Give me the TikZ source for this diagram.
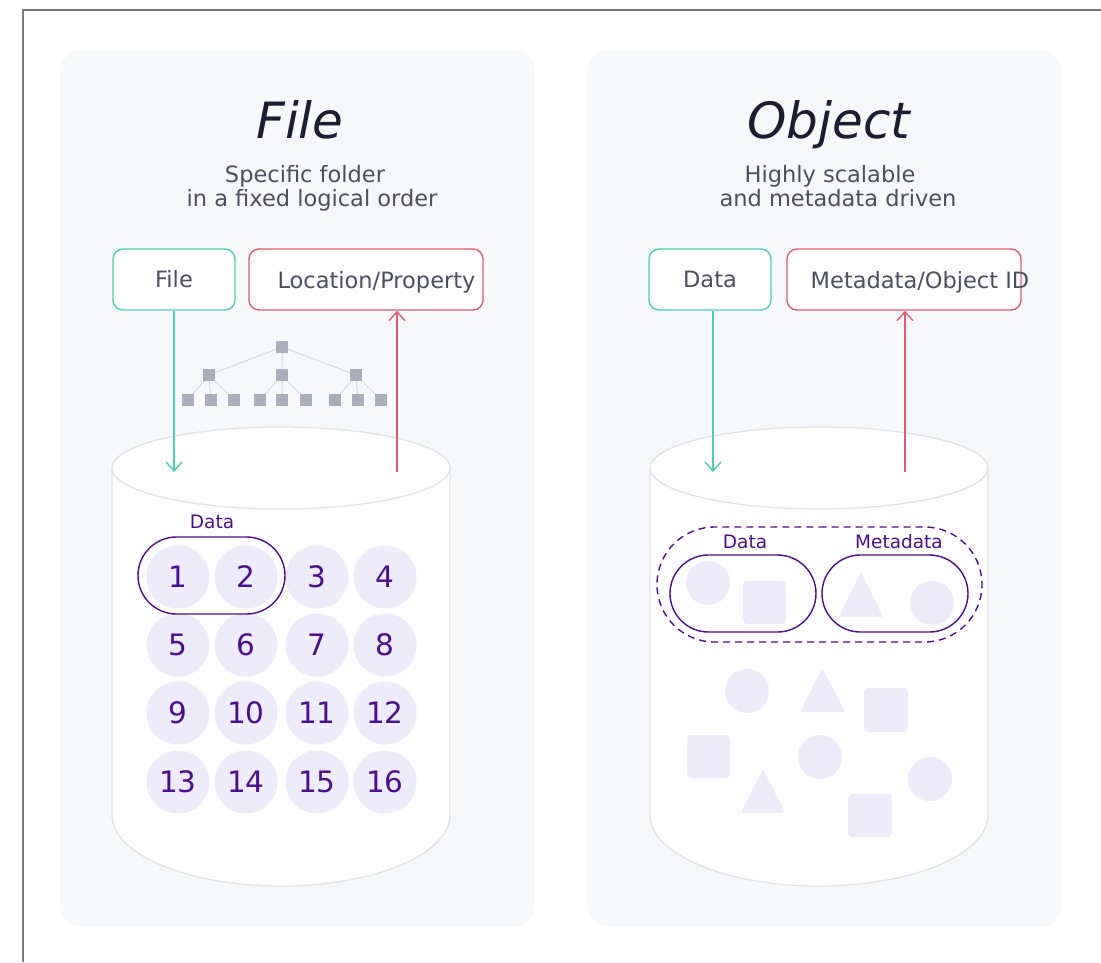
\documentclass[tikz,border=0pt]{standalone}
\usepackage{fontspec}
\setmainfont{DejaVu Sans}
\usetikzlibrary{arrows.meta,shapes.misc}
\definecolor{panel}{HTML}{F7F8FA}
\definecolor{myteal}{HTML}{4CD0B2}
\definecolor{myred}{HTML}{DE5B74}
\definecolor{mypurple}{HTML}{4B0F8E}
\definecolor{lav}{HTML}{EEEBFB}
\definecolor{cylline}{HTML}{E2E2EA}
\definecolor{treesq}{HTML}{ABADBB}
\definecolor{treeln}{HTML}{D8D9E0}
\definecolor{titlec}{HTML}{1C1D30}
\definecolor{subc}{HTML}{4B4F5E}
\definecolor{frame}{HTML}{7A7A7A}
\tikzset{
  boxshape/.style={draw, rounded corners=10pt, line width=1.4pt, fill=white, minimum height=61pt, inner sep=0pt, text=subc, font=\fontsize{22.5}{24}\selectfont},
  boxtext/.style={anchor=base, inner sep=0pt, text=subc, font=\fontsize{22.5}{24}\selectfont},
  titletext/.style={anchor=base, inner sep=0pt, text=titlec, font=\fontsize{50}{50}\selectfont\itshape},
  subtext/.style={anchor=base, inner sep=0pt, text=subc, font=\fontsize{22.5}{24}\selectfont},
  numc/.style={circle, fill=lav, minimum size=63pt, inner sep=0pt, text=mypurple, font=\fontsize{29.5}{29.5}\selectfont},
  grouplabel/.style={inner sep=0pt, anchor=base, text=mypurple, font=\fontsize{18.5}{18.5}\selectfont},
  stadium/.style={rounded rectangle, draw=mypurple, line width=1.4pt, inner sep=0pt},
  treesquare/.style={fill=treesq, minimum size=12pt, inner sep=0pt},
  treeline/.style={draw=treeln, line width=1pt},
  arr/.style={line width=1.4pt, -{Straight Barb[length=9pt,width=16pt,line width=1.4pt]}},
  cyl/.style={draw=cylline, line width=1.3pt, fill=white},
  shapefill/.style={fill=lav}
}
\begin{document}
\begin{tikzpicture}[x=1pt,y=-1pt]
\useasboundingbox (0,0) rectangle (1101,962);
\fill[white] (0,0) rectangle (1101,962);
% frame lines
\draw[frame, line width=2.2pt] (23,962) -- (23,10) -- (1101,10);
% panels
\fill[panel, rounded corners=22pt] (60,50) rectangle (535,927);
\fill[panel, rounded corners=22pt] (587,50) rectangle (1062,927);

% ---------- FILE panel ----------
\node[titletext] (ftitle) at (300,138) {File};
\node[subtext] (fsub1) at (305,182) {Specific folder};
\node[subtext] (fsub2) at (312,206) {in a fixed logical order};

\node[boxshape, draw=myteal, minimum width=122pt] (filebox) at (174,279.5) {File};
\node[boxshape, draw=myred, minimum width=234pt] (locbox) at (366,279.5) {};
\node[boxtext] (loctext) at (376.5,288) {Location/Property};

% tree
\coordinate (r0) at (282,347);
\coordinate (a1) at (209,375);
\coordinate (a2) at (282,375);
\coordinate (a3) at (356,375);
\coordinate (b1) at (188,400);
\coordinate (b2) at (211,400);
\coordinate (b3) at (234,400);
\coordinate (b4) at (260,400);
\coordinate (b5) at (282,400);
\coordinate (b6) at (306,400);
\coordinate (b7) at (335,400);
\coordinate (b8) at (358,400);
\coordinate (b9) at (381,400);
\path[treeline] (r0) -- (a1) (r0) -- (a2) (r0) -- (a3)
  (a1) -- (b1) (a1) -- (b2) (a1) -- (b3)
  (a2) -- (b4) (a2) -- (b5) (a2) -- (b6)
  (a3) -- (b7) (a3) -- (b8) (a3) -- (b9);
\foreach \n in {r0,a1,a2,a3,b1,b2,b3,b4,b5,b6,b7,b8,b9}{
  \node[treesquare] (sq-\n) at (\n) {};
}

% cylinder
\path[cyl] (112,468) -- (112,815) arc[start angle=180, end angle=0, x radius=169, y radius=71] -- (450,468);
\draw[cyl] (281,468) ellipse [x radius=169, y radius=41];

% arrows
\coordinate (fdown) at (174,472);
\coordinate (fup) at (397,472);
\draw[arr, myteal] (filebox.south) -- (fdown);
\draw[arr, myred] (fup) -- (fup |- locbox.south);

% numbered circles
\node[numc] (n1) at (178,577) {1};
\node[numc] (n2) at (246,577) {2};
\node[numc] (n3) at (317,577) {3};
\node[numc] (n4) at (385,577) {4};
\node[numc] (n5) at (178,645) {5};
\node[numc] (n6) at (246,645) {6};
\node[numc] (n7) at (317,645) {7};
\node[numc] (n8) at (385,645) {8};
\node[numc] (n9) at (178,713) {9};
\node[numc] (n10) at (246,713) {10};
\node[numc] (n11) at (317,713) {11};
\node[numc] (n12) at (385,713) {12};
\node[numc] (n13) at (178,782) {13};
\node[numc] (n14) at (246,782) {14};
\node[numc] (n15) at (317,782) {15};
\node[numc] (n16) at (385,782) {16};
\node[stadium, minimum width=147pt, minimum height=77pt] (fdata) at (211.5,575.5) {};
\node[grouplabel] (fdatalbl) at (212,528) {Data};

% ---------- OBJECT panel ----------
\node[titletext] (otitle) at (829,138) {Object};
\node[subtext] (osub1) at (830,182) {Highly scalable};
\node[subtext] (osub2) at (838,206) {and metadata driven};

\node[boxshape, draw=myteal, minimum width=122pt] (databox) at (710,279.5) {Data};
\node[boxshape, draw=myred, minimum width=234pt] (metabox) at (904,279.5) {};
\node[boxtext] (metatext) at (920,288) {Metadata/Object ID};

% cylinder
\path[cyl] (650,468) -- (650,815) arc[start angle=180, end angle=0, x radius=169, y radius=71] -- (988,468);
\draw[cyl] (819,468) ellipse [x radius=169, y radius=41];

\coordinate (odown) at (713,472);
\coordinate (oup) at (905,472);
\draw[arr, myteal] (odown |- databox.south) -- (odown);
\draw[arr, myred] (oup) -- (oup |- metabox.south);

% grouped shapes
\fill[shapefill] (708,583) circle (22);
\fill[shapefill, rounded corners=4pt] (743,581) rectangle (786,624);
\fill[shapefill, rounded corners=1.5pt] (861,572) -- (883,617) -- (839,617) -- cycle;
\fill[shapefill] (932,603) circle (22);
\node[stadium, minimum width=146pt, minimum height=77pt] (odata) at (743,593.5) {};
\node[stadium, minimum width=146pt, minimum height=77pt] (ometa) at (895,593.5) {};
\node[stadium, dash pattern=on 7pt off 5pt, minimum width=325pt, minimum height=115pt] (ogroup) at (819.5,584.5) {};
\node[grouplabel] (odatalbl) at (745,548) {Data};
\node[grouplabel] (ometalbl) at (899,548) {Metadata};

% scattered shapes
\fill[shapefill] (747,691) circle (22);
\fill[shapefill, rounded corners=1.5pt] (822,668) -- (845,712) -- (800,712) -- cycle;
\fill[shapefill, rounded corners=4pt] (864,688) rectangle (908,732);
\fill[shapefill, rounded corners=4pt] (687,735) rectangle (730,778);
\fill[shapefill] (820,757) circle (22);
\fill[shapefill, rounded corners=1.5pt] (763,769) -- (785,813) -- (741,813) -- cycle;
\fill[shapefill] (930,779) circle (22);
\fill[shapefill, rounded corners=4pt] (848,794) rectangle (892,837);
\end{tikzpicture}
\end{document}
